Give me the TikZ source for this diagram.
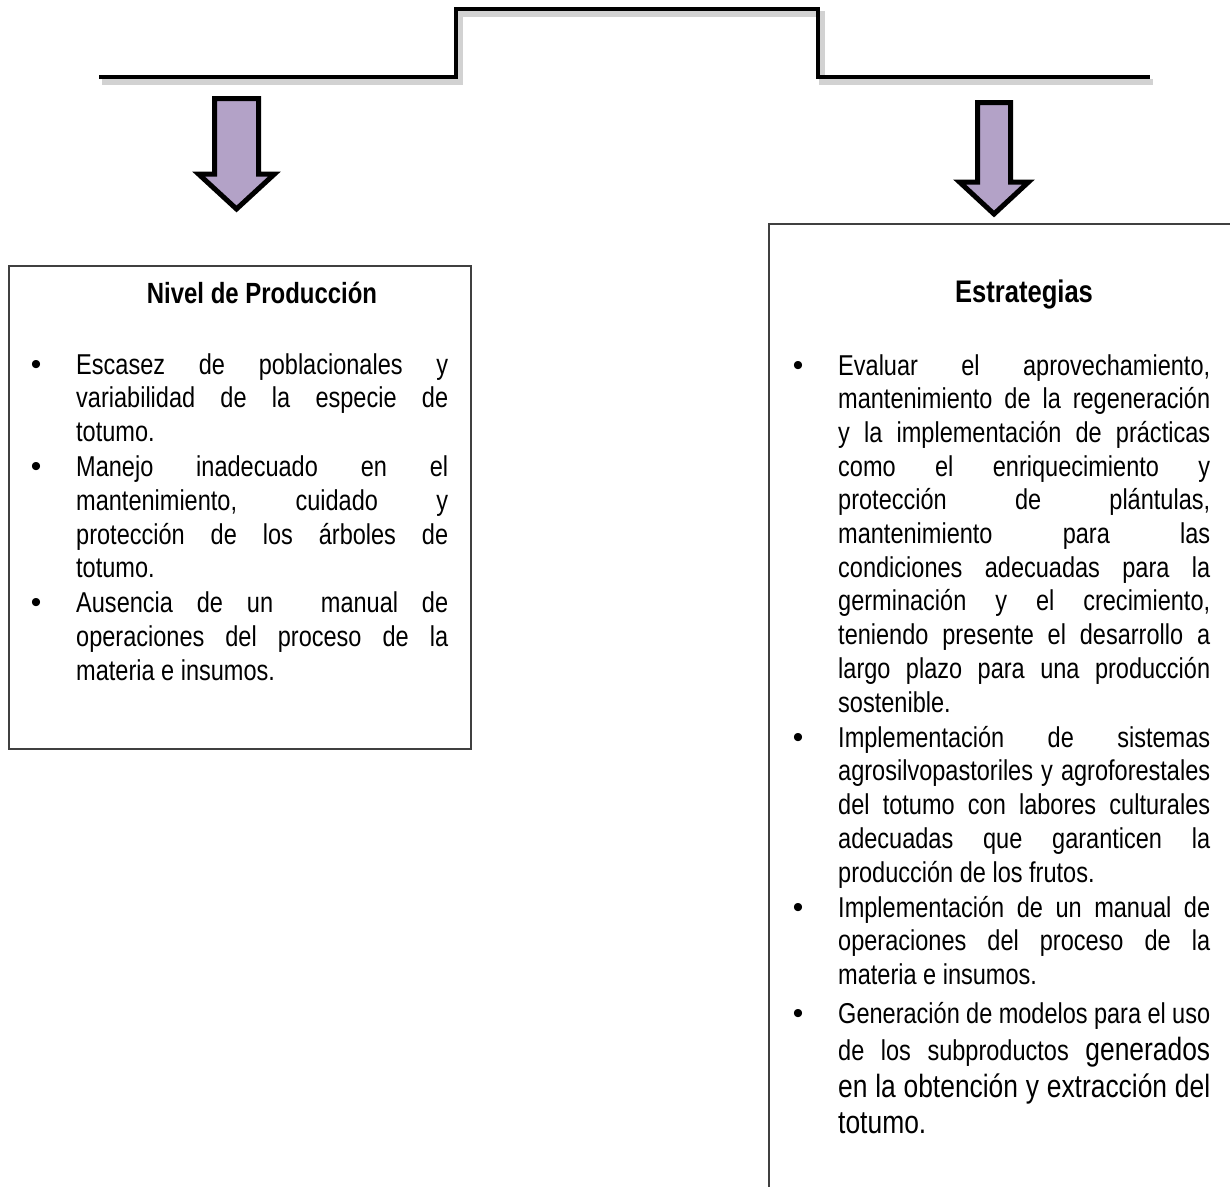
\documentclass[tikz,border=0pt]{standalone}
\usepackage{fontspec}
\setmainfont{Liberation Sans}[FakeStretch=0.82]
\newfontfamily\bulfont{Liberation Sans}
\definecolor{arrowfill}{HTML}{B3A2C7}
\definecolor{boxline}{HTML}{404040}
\definecolor{shadowgrey}{HTML}{D2D2D2}
\newcommand\bul{{\bulfont\fontsize{30pt}{30pt}\selectfont\char"2022}}
\newcommand\jl[1]{\hbox to 372pt{#1}}
\newcommand\nl[1]{\hbox{#1}}
\newcommand\bjl[1]{\hbox to 372pt{\llap{\makebox[0pt][c]{\bul}\hskip40pt}#1}}
\newcommand\bnl[1]{\hbox{\llap{\makebox[0pt][c]{\bul}\hskip40pt}#1}}
\newcommand\bigf{\fontsize{32.2pt}{36.7pt}\selectfont}
\frenchspacing
\begin{document}
\begin{tikzpicture}[x=1pt,y=-1pt,
  bracket/.style={line width=4.5pt,line join=miter,line cap=butt},
  bracketshadow/.style={line width=6pt,draw=shadowgrey,line join=miter},
  blockarrow/.style={draw=black,fill=arrowfill,line width=5pt,line join=miter},
  framebox/.style={draw=boxline,line width=1.5pt},
  body/.style={inner sep=0pt,anchor=base west},
  title/.style={inner sep=0pt,anchor=base}]
\useasboundingbox (0,0) rectangle (1230,1186);
\begin{scope}
\clip (0,0) rectangle (1230,1186);
% top bracket
\draw[bracketshadow] (102,82) -- (460,82) -- (460,14) -- (822,14) -- (822,82) -- (1153,82);
\draw[bracket] (99,77) -- (456,77) -- (456,9) -- (818,9) -- (818,77) -- (1150,77);
% block arrows
\draw[blockarrow] (214.5,98.5) -- (258.5,98.5) -- (258.5,174) -- (274.5,174) -- (236.5,209)
  -- (198.5,174) -- (214.5,174) -- cycle;
\draw[blockarrow] (977.5,102.5) -- (1010.5,102.5) -- (1010.5,182) -- (1028.5,182) -- (994,214)
  -- (959.5,182) -- (977.5,182) -- cycle;
% boxes
\node[framebox,inner sep=0pt,minimum width=462pt,minimum height=483pt,anchor=north west] (leftbox) at (8,265) {};
\draw[framebox] (1235,224) -- (769,224) -- (769,1192);
\end{scope}
% titles
\node[title,font=\bfseries\fontsize{29.2pt}{34pt}\selectfont] (lefttitle) at (262,303) {Nivel de Producción};
\node[title,font=\bfseries\fontsize{31.2pt}{36pt}\selectfont] (righttitle) at (1024,302) {Estrategias};
% left text
\node[body] (lefttext) at (76,374) {\vtop{\hsize=372pt\fontsize{28.7pt}{33.7pt}\selectfont
\bjl{Escasez de poblacionales y}
\jl{variabilidad de la especie de}
\nl{totumo.}
\vskip1.5pt
\bjl{Manejo inadecuado en el}
\jl{mantenimiento, cuidado y}
\jl{protección de los árboles de}
\nl{totumo.}
\vskip1.5pt
\bjl{Ausencia de un\ \ manual de}
\jl{operaciones del proceso de la}
\nl{materia e insumos.}
}};
% right text
\node[body] (righttext) at (838,375) {\vtop{\hsize=372pt\fontsize{28.7pt}{33.7pt}\selectfont
\bjl{Evaluar el aprovechamiento,}
\jl{mantenimiento de la regeneración}
\jl{y la implementación de prácticas}
\jl{como el enriquecimiento y}
\jl{protección de plántulas,}
\jl{mantenimiento para las}
\jl{condiciones adecuadas para la}
\jl{germinación y el crecimiento,}
\jl{teniendo presente el desarrollo a}
\jl{largo plazo para una producción}
\nl{sostenible.}
\vskip1.5pt
\bjl{Implementación de sistemas}
\jl{agrosilvopastoriles y agroforestales}
\jl{del totumo con labores culturales}
\jl{adecuadas que garanticen la}
\nl{producción de los frutos.}
\vskip1.5pt
\bjl{Implementación de un manual de}
\jl{operaciones del proceso de la}
\nl{materia e insumos.}
\vskip2.3pt
\fontsize{28.7pt}{36.7pt}\selectfont
\bjl{Generación de modelos para el uso}
\jl{de los subproductos {\bigf generados}}
\jl{\bigf en la obtención y extracción del}
\nl{\bigf totumo.}
}};
\end{tikzpicture}
\end{document}
